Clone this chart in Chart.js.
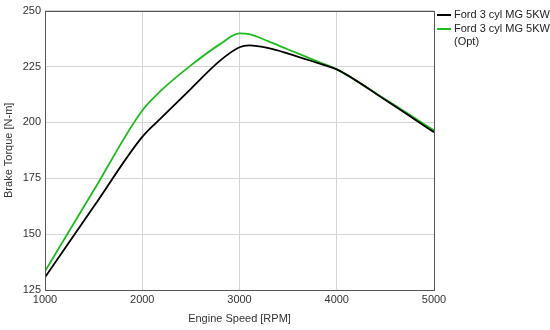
<!DOCTYPE html>
<html>
<head>
<meta charset="utf-8">
<script src="https://cdn.jsdelivr.net/npm/chart.js@4/dist/chart.umd.min.js"></script>
<style>
    html, body { margin: 0; padding: 0; background: #fff; }
    #wrap { position: relative; width: 550px; height: 330px; }
    #legend { position: absolute; left: 437px; top: 8px; font: 11px "Liberation Sans", Arial, sans-serif; color: #222; }
    .item { display: flex; align-items: flex-start; margin-bottom: 1px; line-height: 13px; }
    .swatch { width: 14px; height: 2px; margin-top: 6px; margin-right: 3px; flex: none; }
</style>
</head>
<body>
<div id="wrap">
    <canvas id="chart" width="550" height="330"></canvas>
    <div id="legend"></div>
</div>
<script>
// Engine speed [RPM]
const rpm = [1000, 1500, 2000, 2200, 2500, 2800, 3000, 3100, 3300, 3500, 3800, 4000, 4500, 5000];
// Brake torque [N-m]
const torqueBase = [130.7, 162.2, 193.5, 202.2, 215.0, 227.6, 233.6, 234.4, 233.2, 230.8, 226.6, 223.7, 210.0, 195.6];
const torqueOpt = [133.4, 169.5, 205.3, 214.5, 225.5, 235.0, 239.8, 239.5, 236.2, 232.6, 227.3, 223.7, 210.3, 196.4];
const seriesLabels = ['Ford 3 cyl MG 5KW', 'Ford 3 cyl MG 5KW (Opt)'];
const seriesColors = ['#000000', '#1fbb1f'];
const yTicks = [125, 150, 175, 200, 225, 250];
const xTicks = [1000, 2000, 3000, 4000, 5000];

const font = { family: '"Liberation Sans", Arial, sans-serif', size: 11 };

function toPoints(ys) {
    return rpm.map((x, i) => ({ x: x, y: ys[i] }));
}

// Draw the dark frame around the plot area
const frame = {
    id: 'frame',
    afterDraw(chart) {
        const a = chart.chartArea;
        const ctx = chart.ctx;
        ctx.save();
        ctx.strokeStyle = '#555';
        ctx.lineWidth = 1;
        ctx.strokeRect(Math.round(a.left) + 0.5, Math.round(a.top) + 0.5, Math.round(a.right - a.left), Math.round(a.bottom - a.top));
        ctx.restore();
    }
};

new Chart(document.getElementById('chart'), {
    type: 'line',
    data: {
        datasets: [
            { label: seriesLabels[0], data: toPoints(torqueBase), borderColor: seriesColors[0] },
            { label: seriesLabels[1], data: toPoints(torqueOpt), borderColor: seriesColors[1] }
        ]
    },
    options: {
        responsive: false,
        animation: false,
        layout: { padding: { top: 6, right: 116, left: 0, bottom: 0 } },
        elements: {
            point: { radius: 0 },
            line: { borderWidth: 1.8, cubicInterpolationMode: 'monotone', fill: false }
        },
        plugins: {
            legend: { display: false },
            tooltip: { enabled: false }
        },
        scales: {
            x: {
                type: 'linear',
                min: 1000,
                max: 5000,
                afterBuildTicks: (s) => { s.ticks = xTicks.map(v => ({ value: v })); },
                afterFit: (s) => { s.height = 40; },
                grid: { color: '#d4d4d4', drawTicks: false },
                border: { display: false },
                ticks: { font: font, color: '#333', padding: 3, maxRotation: 0, callback: (v) => String(v) },
                title: { display: true, text: 'Engine Speed [RPM]', font: font, color: '#333', padding: { top: 4, bottom: 4 } }
            },
            y: {
                min: 125,
                max: 250,
                afterBuildTicks: (s) => { s.ticks = yTicks.map(v => ({ value: v })); },
                afterFit: (s) => { s.width = 45; },
                grid: { color: '#d4d4d4', drawTicks: false },
                border: { display: false },
                ticks: { font: font, color: '#333', padding: 4, callback: (v) => String(v) },
                title: { display: true, text: 'Brake Torque [N-m]', font: font, color: '#333', padding: { top: 2, bottom: 2 } }
            }
        }
    },
    plugins: [frame]
});

// Legend on the right, built from the series labels
const legend = document.getElementById('legend');
seriesLabels.forEach((label, i) => {
    const item = document.createElement('div');
    item.className = 'item';
    const sw = document.createElement('span');
    sw.className = 'swatch';
    sw.style.background = seriesColors[i];
    const txt = document.createElement('span');
    txt.style.width = '100px';
    txt.textContent = label;
    item.appendChild(sw);
    item.appendChild(txt);
    legend.appendChild(item);
});
</script>
</body>
</html>
